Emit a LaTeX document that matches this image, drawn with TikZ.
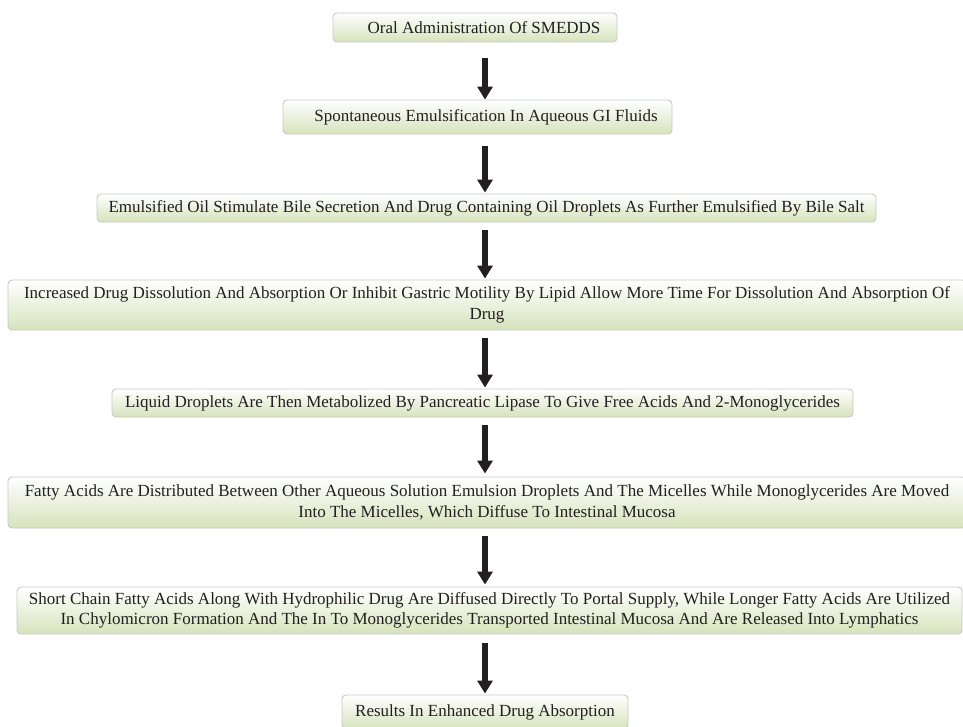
\documentclass[tikz,border=0pt]{standalone}
\usepackage{fontspec}
\setmainfont{Liberation Serif}
\usetikzlibrary{arrows.meta,calc}
\definecolor{boxgreen}{RGB}{214,227,188}
\definecolor{boxline}{RGB}{200,200,200}
\definecolor{ink}{RGB}{35,31,32}
\tikzset{
  flowbox/.style={draw=boxline, line width=0.9pt, rounded corners=4pt,
    top color=white, bottom color=boxgreen, shading angle=0,
    text=ink, inner sep=0pt, align=center,
    font=\fontsize{17}{20.5}\selectfont},
  flowarrow/.style={draw=ink, line width=5.5pt,
    -{Triangle[length=13pt,width=15pt]}}
}
\begin{document}
\begin{tikzpicture}[x=1pt,y=-1pt]
\useasboundingbox (0,0) rectangle (963,726);
\coordinate (ax) at (485,0);
\node[flowbox, minimum width=284pt, minimum height=29pt] (b1) at (475,27.5)
  {\hspace*{18pt}Oral Administration Of SMEDDS};
\node[flowbox, minimum width=389pt, minimum height=34pt] (b2) at (477.5,117)
  {\hspace*{17pt}Spontaneous Emulsification In Aqueous GI Fluids};
\node[flowbox, minimum width=779pt, minimum height=28pt] (b3) at (486.5,208)
  {Emulsified Oil Stimulate Bile Secretion And Drug Containing Oil Droplets As Further Emulsified By Bile Salt};
\node[flowbox, minimum width=958pt, minimum height=50pt] (b4) at (487,305)
  {Increased Drug Dissolution And Absorption Or Inhibit Gastric Motility By Lipid Allow More Time For Dissolution And Absorption Of\\ Drug};
\node[flowbox, minimum width=741pt, minimum height=28pt] (b5) at (482.5,403)
  {Liquid Droplets Are Then Metabolized By Pancreatic Lipase To Give Free Acids And 2-Monoglycerides};
\node[flowbox, minimum width=958pt, minimum height=51pt] (b6) at (487,502.5)
  {Fatty Acids Are Distributed Between Other Aqueous Solution Emulsion Droplets And The Micelles While Monoglycerides Are Moved\\ Into The Micelles, Which Diffuse To Intestinal Mucosa};
\node[flowbox, minimum width=945pt, minimum height=47pt] (b7) at (489.5,610.5)
  {Short Chain Fatty Acids Along With Hydrophilic Drug Are Diffused Directly To Portal Supply, While Longer Fatty Acids Are Utilized\\ In Chylomicron Formation And The In To Monoglycerides Transported Intestinal Mucosa And Are Released Into Lymphatics};
\node[flowbox, minimum width=286pt, minimum height=34pt] (b8) at (485,712)
  {Results In Enhanced Drug Absorption};
\draw[flowarrow, shorten <=16pt] (b1.south -| ax) -- (b2.north -| ax);
\draw[flowarrow, shorten <=12pt, shorten >=1pt] (b2.south -| ax) -- (b3.north -| ax);
\draw[flowarrow, shorten <=8pt, shorten >=1pt] (b3.south -| ax) -- (b4.north -| ax);
\draw[flowarrow, shorten <=8pt, shorten >=1pt] (b4.south -| ax) -- (b5.north -| ax);
\draw[flowarrow, shorten <=8pt, shorten >=3pt] (b5.south -| ax) -- (b6.north -| ax);
\draw[flowarrow, shorten <=8pt, shorten >=2pt] (b6.south -| ax) -- (b7.north -| ax);
\draw[flowarrow, shorten <=9pt, shorten >=1pt] (b7.south -| ax) -- (b8.north -| ax);
\end{tikzpicture}
\end{document}
